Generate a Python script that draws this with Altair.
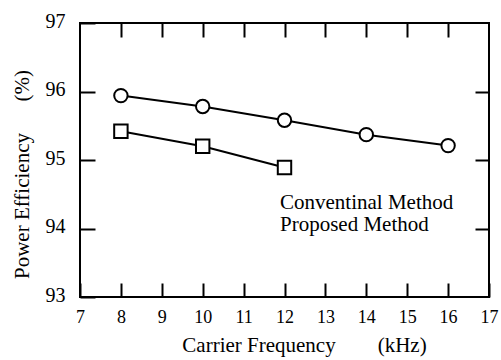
import altair as alt
import pandas as pd

methods = ["Conventinal Method", "Proposed Method"]
conv_freq = [8, 10, 12]
conv_eff = [95.42, 95.20, 94.89]
prop_freq = [8, 10, 12, 14, 16]
prop_eff = [95.94, 95.78, 95.58, 95.37, 95.21]

x_labels = [7, 8, 9, 10, 11, 12, 13, 14, 15, 16, 17]
y_labels = [93, 94, 95, 96, 97]
x_inner = [8, 9, 10, 11, 12, 13, 14, 15, 16]
y_inner = [94, 95, 96]

df = pd.DataFrame({
    "freq": conv_freq + prop_freq,
    "eff": conv_eff + prop_eff,
    "method": [methods[0]] * len(conv_freq) + [methods[1]] * len(prop_freq),
})

FONT = "Liberation Serif"
W, H = 409, 274
NB = "\u00a0"

xs = alt.Scale(domain=[7, 17], nice=False, zero=False)
ys = alt.Scale(domain=[93, 97], nice=False, zero=False)

# bottom / left axes: labels + inward ticks (axis moved inside by the tick length)
x_axis = alt.Axis(
    orient="bottom", offset=-14, values=x_labels, ticks=True, tickSize=14, tickWidth=2,
    tickColor="black", domain=False, grid=False, format="d",
    labelFont=FONT, labelFontSize=18, labelPadding=11, labelColor="black",
    labelFlush=False, labelOverlap=False,
    title="Carrier Frequency" + NB * 8 + "(kHz)",
    titleFont=FONT, titleFontSize=21, titleFontWeight="normal", titleColor="black",
    titleX=224, titleY=68, titleBaseline="alphabetic", titleAlign="center",
)
y_axis = alt.Axis(
    orient="left", offset=-15, values=y_labels, ticks=True, tickSize=15, tickWidth=2,
    tickColor="black", domain=False, grid=False, format="d",
    labelFont=FONT, labelFontSize=20, labelPadding=15, labelColor="black",
    labelFlush=False, labelOverlap=False, labelOffset=-2,
    title="Power Efficiency" + NB * 6 + "(%)",
    titleFont=FONT, titleFontSize=21, titleFontWeight="normal", titleColor="black",
    titleX=-67, titleY=151, titleBaseline="alphabetic", titleAlign="center", titleAngle=270,
)
# top / right axes: inward ticks only
x_top = alt.Axis(
    orient="top", offset=-14, values=x_inner, ticks=True, tickSize=14, tickWidth=2,
    tickColor="black", domain=False, grid=False, labels=False, title=None,
)
y_right = alt.Axis(
    orient="right", offset=-14, values=y_inner, ticks=True, tickSize=14, tickWidth=2,
    tickColor="black", domain=False, grid=False, labels=False, title=None,
)

lines = alt.Chart(df).mark_line(color="black", strokeWidth=2).encode(
    x=alt.X("freq:Q", scale=xs, axis=x_top),
    y=alt.Y("eff:Q", scale=ys, axis=y_right),
    detail="method:N",
)
points = alt.Chart(df).mark_point(
    filled=True, fill="white", stroke="black", strokeWidth=2, opacity=1, size=180
).encode(
    x=alt.X("freq:Q", scale=xs, axis=x_axis),
    y=alt.Y("eff:Q", scale=ys, axis=y_axis),
    shape=alt.Shape("method:N", scale=alt.Scale(domain=methods, range=["square", "circle"]),
                    legend=alt.Legend(
                        orient="none", legendX=165, legendY=169, title=None,
                        labelFont=FONT, labelFontSize=21, labelColor="black", labelLimit=400,
                        symbolSize=90, symbolStrokeWidth=2, symbolStrokeColor="black",
                        symbolFillColor="white",
                        labelOffset=14, rowPadding=0, padding=0,
                    )),
)

chart = alt.layer(lines, points).resolve_axis(x="independent", y="independent").properties(
    width=W, height=H,
    autosize=alt.AutoSizeParams(type="none"),
    padding={"left": 80, "top": 23, "right": 12, "bottom": 63},
    background="white",
).configure(font=FONT).configure_view(stroke="black", strokeWidth=2)

chart.save("out.html", embed_options={"renderer": "svg", "actions": False})
